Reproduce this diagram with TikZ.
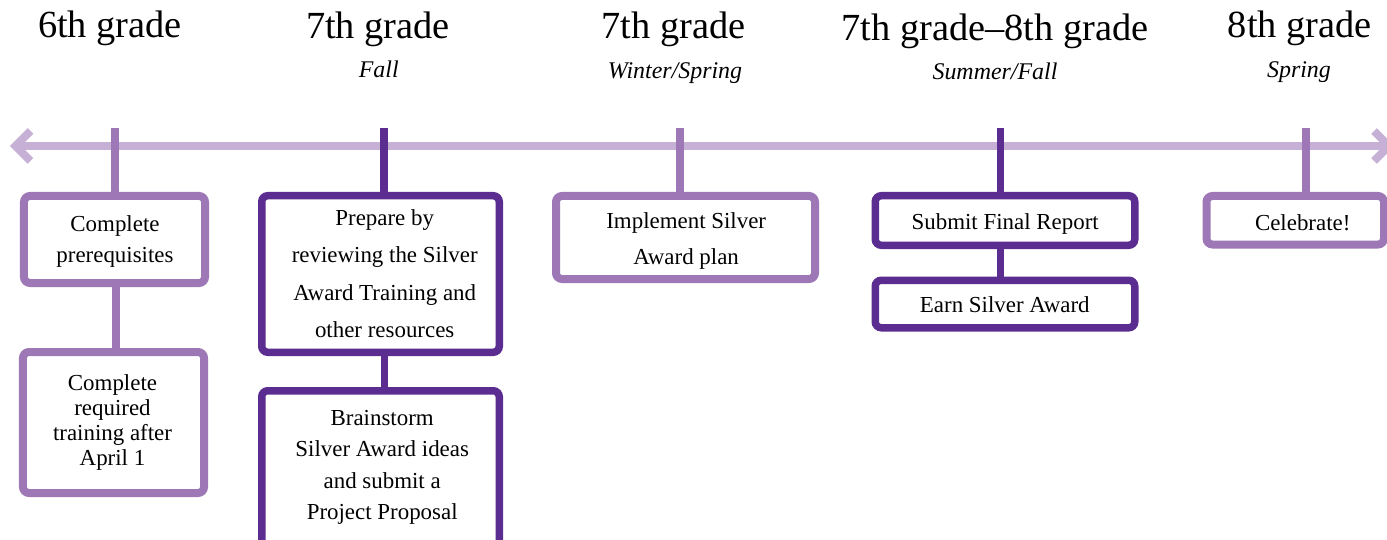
\documentclass[tikz,border=0pt]{standalone}
\usepackage{fontspec}
\setmainfont{Liberation Serif}
\definecolor{tlc}{HTML}{C7B0D6}
\definecolor{lpc}{HTML}{9E78B6}
\definecolor{dpc}{HTML}{5C2D91}
\tikzset{
 tline/.style={draw=tlc, line width=8bp, line join=miter},
 lbox/.style={draw=lpc, line width=8bp, rounded corners=6bp, fill=white, inner sep=0pt},
 dbox/.style={draw=dpc, line width=7.5bp, rounded corners=6bp, fill=white, inner sep=0pt},
 ltick/.style={draw=lpc, line width=8bp},
 dtick/.style={draw=dpc, line width=7.5bp},
 head/.style={inner sep=0pt, anchor=base, font=\fontsize{38.5}{44}\selectfont},
 subhead/.style={inner sep=0pt, anchor=base, font=\fontsize{24}{28}\selectfont\itshape},
 body/.style={inner sep=0pt, anchor=north, yshift=16bp, align=center,
   font=\fontsize{23}{#1}\selectfont, execute at begin node={\rule{0pt}{18bp}}},
 body/.default=28,
}
\begin{document}
\begin{tikzpicture}[x=1bp,y=-1bp]
\useasboundingbox (0,0) rectangle (1387,540);
\fill[white] (0,0) rectangle (1387,540);
% headings
\node[head] (h1) at (110,37.3) {6th grade};
\node[head] (h2) at (378,38.3) {7th grade};
\node[subhead] (s2) at (378.8,77.3) {Fall};
\node[head] (h3) at (673.7,38.3) {7th grade};
\node[subhead] (s3) at (675,78.3) {Winter/Spring};
\node[head] (h4) at (995,41) {7th grade--8th grade};
\node[subhead] (s4) at (995,80) {Summer/Fall};
\node[head] (h5) at (1299.7,37.3) {8th grade};
\node[subhead] (s5) at (1299,77.3) {Spring};
% timeline
\coordinate (tlL) at (15.5,146);
\coordinate (tlR) at (1389,146);
\draw[tline] (tlL) -- (tlR);
\draw[tline] ([shift={(15,-15)}]tlL) -- (tlL) -- ([shift={(15,15)}]tlL);
\draw[tline] ([shift={(-15,-15)}]tlR) -- (tlR) -- ([shift={(-15,15)}]tlR);
% boxes
\node[lbox, minimum width=181bp, minimum height=87bp] (A) at (114.5,239.5) {};
\node[lbox, minimum width=181bp, minimum height=141bp] (B) at (113.5,422.5) {};
\node[dbox, minimum width=237.5bp, minimum height=156.5bp] (C) at (380.5,274) {};
\node[dbox, minimum width=237.5bp, minimum height=178.5bp] (D) at (380.5,480) {};
\node[lbox, minimum width=259bp, minimum height=83bp] (E) at (685.5,237.5) {};
\node[dbox, minimum width=259.5bp, minimum height=49.5bp] (F) at (1005,220.5) {};
\node[dbox, minimum width=259.5bp, minimum height=47.5bp] (G) at (1005,304) {};
\node[lbox, minimum width=177.5bp, minimum height=48.5bp] (H) at (1295.25,220.25) {};
% ticks
\coordinate (t1) at (115,128);
\coordinate (t2) at (384,128);
\coordinate (t3) at (680,128);
\coordinate (t4) at (1000.5,128);
\coordinate (t5) at (1305.5,128);
\draw[ltick] (t1) -- (t1 |- A.north);
\draw[dtick] (t2) -- (t2 |- C.north);
\draw[ltick] (t3) -- (t3 |- E.north);
\draw[dtick] (t4) -- (t4 |- F.north);
\draw[ltick] (t5) -- (t5 |- H.north);
% connectors between boxes
\coordinate (cAB) at (115.5,0);
\coordinate (cCD) at (384.5,0);
\coordinate (cFG) at (1000.5,0);
\draw[ltick] (cAB |- A.south) -- (cAB |- B.north);
\draw[dtick] (cCD |- C.south) -- (cCD |- D.north);
\draw[dtick] (cFG |- F.south) -- (cFG |- G.north);
% texts
\node[body=31] (tA) at (115,231.7) {Complete\\prerequisites};
\node[body=25] (tB) at (112.5,390.7) {Complete\\required\\training after\\April 1};
\node[body=37.3] (tC) at (384.7,225.7) {Prepare by\\reviewing the Silver\\Award Training and\\other resources};
\node[body=31.7] (tD) at (382.2,425.7) {Brainstorm\\Silver Award ideas\\and submit a\\Project Proposal};
\node[body=36.7] (tE) at (686.2,228.3) {Implement Silver\\Award plan};
\node[body] (tF) at (1005.2,227.7) {Submit Final Report};
\node[body] (tG) at (1004.8,310) {Earn Silver Award};
\node[body] (tH) at (1302.7,228.3) {Celebrate!};
\end{tikzpicture}
\end{document}
